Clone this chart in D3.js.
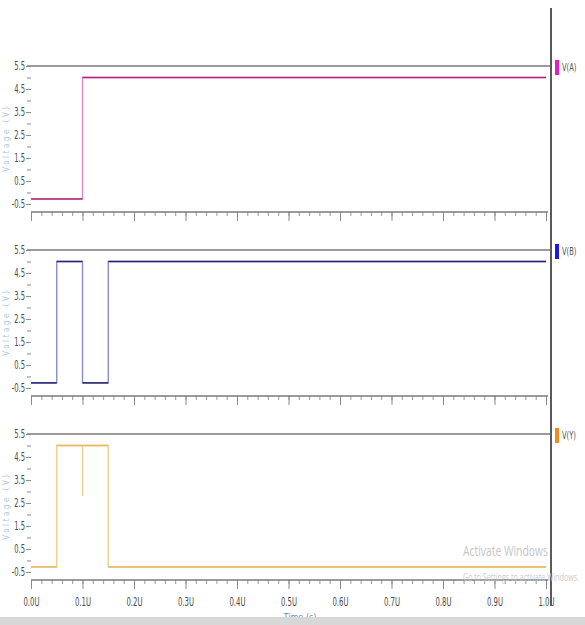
<!DOCTYPE html>
<html><head><meta charset="utf-8">
<script src="https://cdn.jsdelivr.net/npm/d3@7"></script>
<style>
html,body{margin:0;padding:0;background:#fff;}
svg{display:block;}
</style></head>
<body>
<svg id="c" width="585" height="625"></svg>
<script>
// ---- data ----
const signalNames = ["V(A)", "V(B)", "V(Y)"];
const aTime = [0, 0.1, 0.1, 1.0];
const aVolt = [-0.28, -0.28, 5, 5];
const bTime = [0, 0.05, 0.05, 0.1, 0.1, 0.15, 0.15, 1.0];
const bVolt = [-0.28, -0.28, 5, 5, -0.28, -0.28, 5, 5];
const yTime = [0, 0.05, 0.05, 0.1, 0.1, 0.1, 0.15, 0.15, 1.0];
const yVolt = [-0.28, -0.28, 5, 5, 2.8, 5, 5, -0.28, -0.28];
const yTickLabels = ["5.5", "4.5", "3.5", "2.5", "1.5", "0.5", "-0.5"];
const yMinorTicks = [5, 4, 3, 2, 1, 0];
const xTickLabels = ["0.0U","0.1U","0.2U","0.3U","0.4U","0.5U","0.6U","0.7U","0.8U","0.9U","1.0U"];
const xMajorTicks = [0,0.1,0.2,0.3,0.4,0.5,0.6,0.7,0.8,0.9,1.0];

const lineColors = ["#b1257f", "#23236f", "#e6b85a"];
const edgeColors = ["#e48ac4", "#8c8cd0", "#ecd08e"];
const swatchColors = ["#e61ec8", "#1a1ae8", "#f08a1e"];
const seriesT = [aTime, bTime, yTime];
const seriesV = [aVolt, bVolt, yVolt];

// ---- layout ----
const svg = d3.select("#c");
const x = d3.scaleLinear().domain([0, 1]).range([31, 546]);
const panelTops = [66, 250, 434];
const panelH = 146;
const font = "'DejaVu Sans Condensed', 'Liberation Sans Narrow', sans-serif";

panelTops.forEach((top, i) => {
  const y = d3.scaleLinear().domain([-0.85, 5.5]).range([top + panelH, top]);
  const g = svg.append("g");

  // top reference line at 5.5
  g.append("line").attr("x1", 27).attr("x2", 551)
    .attr("y1", y(5.5)).attr("y2", y(5.5))
    .attr("stroke", "#7a7a7a").attr("stroke-width", 1.3);

  // y axis labelled ticks
  const ya = d3.axisLeft(y).tickValues(yTickLabels.map(Number)).tickSize(5)
    .tickFormat((d, k) => yTickLabels[k]);
  const yg = g.append("g").attr("transform", "translate(31,0)").call(ya);
  yg.select(".domain").remove();
  yg.selectAll(".tick line").attr("stroke", "#8a8a8a");
  yg.selectAll(".tick text").attr("font-family", font).attr("font-size", 11.5)
    .attr("fill", "#4a4a4a").attr("x", -9).attr("transform", "scale(0.66,1)");
  // minor y ticks
  const ym = d3.axisLeft(y).tickValues(yMinorTicks).tickSize(4).tickFormat("");
  const ymg = g.append("g").attr("transform", "translate(31,0)").call(ym);
  ymg.select(".domain").remove();
  ymg.selectAll(".tick line").attr("stroke", "#8a8a8a");

  // y axis title (faint)
  g.append("text").attr("transform", `translate(9,${top + 72}) rotate(-90)`)
    .attr("text-anchor", "middle").attr("font-family", font).attr("font-size", 8)
    .attr("letter-spacing", 2.5).attr("fill", "#8fbcd6").attr("opacity", 0.8).text("Voltage (V)");

  // x axis
  const axisY = top + panelH;
  const xm = d3.axisBottom(x).ticks(50).tickSize(4).tickFormat("");
  const xmg = g.append("g").attr("transform", `translate(0,${axisY})`).call(xm);
  xmg.select(".domain").remove();
  xmg.selectAll(".tick line").attr("stroke", "#9a9a9a");
  const xa = d3.axisBottom(x).tickValues(xMajorTicks).tickSize(9)
    .tickFormat((d, k) => i === 2 ? xTickLabels[k] : "");
  const xg = g.append("g").attr("transform", `translate(0,${axisY})`).call(xa);
  xg.select(".domain").remove();
  xg.selectAll(".tick line").attr("stroke", "#8a8a8a");
  xg.selectAll(".tick text").attr("font-family", font).attr("font-size", 12)
    .attr("fill", "#4a4a4a").attr("y", 17).attr("transform", "scale(0.64,1)");
  g.append("line").attr("x1", 31).attr("x2", 548).attr("y1", axisY).attr("y2", axisY)
    .attr("stroke", "#7a7a7a").attr("stroke-width", 1.5);

  // signal: lighter vertical edges, darker plateaus
  const pts = seriesT[i].map((t, k) => [t, seriesV[i][k]]);
  const line = d3.line().x(d => x(d[0])).y(d => y(d[1]));
  g.append("path").datum(pts).attr("d", line).attr("fill", "none")
    .attr("stroke", edgeColors[i]).attr("stroke-width", 1.4);
  const segs = [];
  for (let k = 0; k < pts.length - 1; k++) {
    if (pts[k][1] === pts[k + 1][1]) segs.push([pts[k], pts[k + 1]]);
  }
  g.selectAll(null).data(segs).join("path").attr("d", line).attr("fill", "none")
    .attr("stroke", lineColors[i]).attr("stroke-width", 1.5);

  // legend
  g.append("rect").attr("x", 555).attr("y", top - 6).attr("width", 4).attr("height", 15)
    .attr("fill", swatchColors[i]);
  g.append("text").attr("x", 562 / 0.75).attr("y", top + 5).attr("font-family", font)
    .attr("font-size", 10).attr("transform", "scale(0.75,1)")
    .attr("fill", "#555").text(signalNames[i]);
});

// divider line
svg.append("line").attr("x1", 551).attr("x2", 551).attr("y1", 8).attr("y2", 606)
  .attr("stroke", "#5a5a5a").attr("stroke-width", 2);

// x title
svg.append("text").attr("x", 300).attr("y", 620).attr("text-anchor", "middle")
  .attr("font-family", font).attr("font-size", 9).attr("fill", "#6f8fa8").text("Time (s)");

// bottom gray band
svg.append("rect").attr("x", 0).attr("y", 617).attr("width", 585).attr("height", 8)
  .attr("fill", "#d7d7d7");

// watermark
svg.append("text").attr("x", 463).attr("y", 556).attr("font-family", "'Open Sans', sans-serif")
  .attr("font-size", 14).attr("textLength", 85).attr("lengthAdjust", "spacingAndGlyphs")
  .attr("fill", "#c6c6c6").text("Activate Windows");
svg.append("text").attr("x", 463).attr("y", 581).attr("font-family", "'Open Sans', sans-serif")
  .attr("font-size", 10).attr("textLength", 116).attr("lengthAdjust", "spacingAndGlyphs")
  .attr("fill", "#c6c6c6").attr("opacity", 0.9).text("Go to Settings to activate Windows.");
</script>
</body></html>
